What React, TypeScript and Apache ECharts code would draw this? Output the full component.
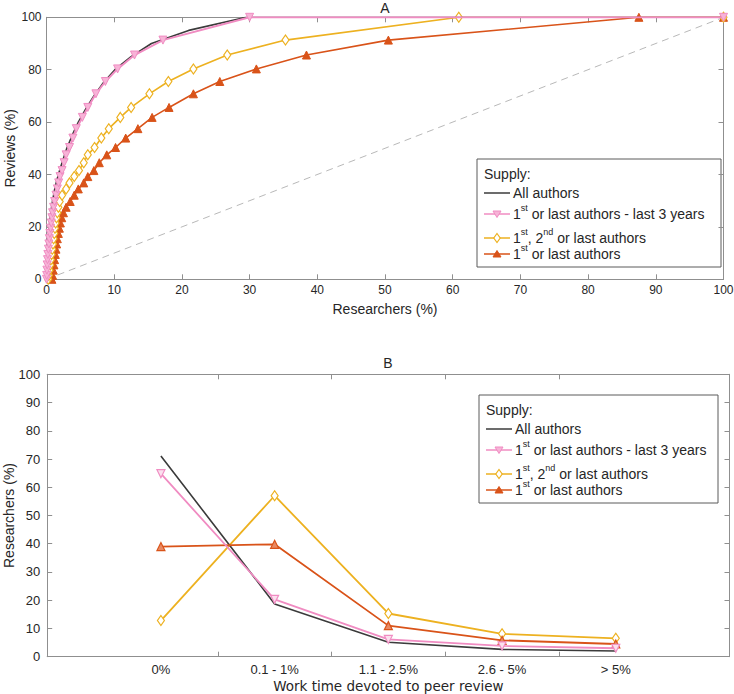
import React, { useEffect, useRef } from 'react';
import * as echarts from 'echarts';

// ---------- Panel A data (cumulative reviews vs researchers) ----------
const reviewLevels = [0, 1.5, 3.5, 5.5, 7.5, 9.5, 11.5, 13.5, 15.5, 17.5, 19.5, 21.5, 23.5, 25.4, 27.5, 29.7, 32.1, 34.5, 36.8, 39.2, 41.5, 44.5, 47.5, 50.3, 53.9, 57.5, 61.8, 65.6, 70.8, 75.5, 80.3, 85.6, 91.3, 100, 100];
const lastThreeYearsX = [0, 0.03, 0.06, 0.1, 0.15, 0.2, 0.28, 0.35, 0.42, 0.5, 0.6, 0.7, 0.8, 0.9, 1.05, 1.2, 1.4, 1.6, 1.8, 2.0, 2.3, 2.6, 2.9, 3.4, 3.9, 4.4, 5.3, 6.1, 7.3, 8.7, 10.5, 13.0, 17.2, 30.0, 100];
const firstSecondLastX = [0.25, 0.35, 0.45, 0.55, 0.65, 0.75, 0.85, 0.95, 1.05, 1.15, 1.25, 1.35, 1.48, 1.6, 1.75, 1.95, 2.3, 2.9, 3.4, 4.1, 4.8, 5.5, 6.1, 7.1, 8.1, 9.2, 10.9, 12.5, 15.2, 18.0, 21.7, 26.7, 35.3, 60.9, 100];
const firstLastX = [0.8, 0.9, 1.0, 1.1, 1.2, 1.3, 1.4, 1.5, 1.6, 1.75, 1.9, 2.05, 2.25, 2.5, 2.9, 3.5, 4.1, 4.7, 5.5, 6.1, 7.0, 7.8, 8.9, 10.2, 11.7, 13.5, 15.6, 18.1, 21.7, 25.6, 31.0, 38.4, 50.5, 87.5, 100];
const allAuthorsX = [0, 0.05, 0.12, 0.25, 0.4, 0.6, 0.9, 1.25, 1.75, 2.35, 3.0, 3.8, 4.7, 5.8, 7.0, 8.4, 10.1, 12.5, 15.5, 21.0, 29.5, 100];
const allAuthorsY = [0, 5, 10, 15, 20, 25, 30, 35, 40, 45, 50, 55, 60, 65, 70, 75, 80, 85, 90, 95, 100, 100];
const equalityLine = [0, 100];

// ---------- Panel B data ----------
const workTimeCategories = ['0%', '0.1 - 1%', '1.1 - 2.5%', '2.6 - 5%', '> 5%'];
const bAllAuthors = [71.1, 18.7, 5.1, 2.6, 2.0];
const bLastThreeYears = [64.8, 20.3, 6.1, 3.8, 3.0];
const bFirstSecondLast = [12.8, 57.0, 15.3, 8.1, 6.5];
const bFirstLast = [39.0, 39.8, 11.0, 5.8, 4.5];

const legendLabels = [
  'All authors',
  '1{sup|st} or last authors - last 3 years',
  '1{sup|st}, 2{sup|nd} or last authors',
  '1{sup|st} or last authors',
];

const FONT = '"Liberation Sans", Arial, Helvetica, sans-serif';
const C_ALL = '#3b3b3b';
const C_PINK = '#f08cc2';
const C_YEL = '#edb120';
const C_ORG = '#d95319';
const AXIS = '#8f8f8f';
const LABEL = '#262626';

const pairs = (xs: number[], ys: number[]) => xs.map((x, i) => [x, ys[i]]);

function legendGraphic(left: number, top: number, width: number) {
  const rowsY = [34, 55, 79, 95];
  const colors = [C_ALL, C_PINK, C_YEL, C_ORG];
  const children: any[] = [
    { type: 'rect', shape: { x: 0, y: 0, width, height: 108 }, style: { fill: '#fff', stroke: '#5a5a5a', lineWidth: 1 } },
    { type: 'text', x: 7, y: 15, style: { text: 'Supply:', fontSize: 14, fontFamily: FONT, fill: LABEL, verticalAlign: 'middle' } },
  ];
  legendLabels.forEach((label, i) => {
    const y = rowsY[i];
    const c = colors[i];
    children.push({ type: 'line', shape: { x1: 7, y1: y, x2: 33, y2: y }, style: { stroke: c, lineWidth: 1.5 } });
    const cx = 20;
    if (i === 1) {
      children.push({ type: 'polygon', shape: { points: [[cx - 4, y - 3], [cx + 4, y - 3], [cx, y + 3.5]] }, style: { fill: '#f7b3d7', stroke: C_PINK, lineWidth: 1 } });
    } else if (i === 2) {
      children.push({ type: 'polygon', shape: { points: [[cx, y - 4.5], [cx + 3.2, y], [cx, y + 4.5], [cx - 3.2, y]] }, style: { fill: '#fff', stroke: C_YEL, lineWidth: 1.2 } });
    } else if (i === 3) {
      children.push({ type: 'polygon', shape: { points: [[cx - 4, y + 3], [cx + 4, y + 3], [cx, y - 3.5]] }, style: { fill: C_ORG, stroke: C_ORG, lineWidth: 1 } });
    }
    children.push({
      type: 'text', x: 36, y,
      style: {
        text: label, fontSize: 14, fontFamily: FONT, fill: LABEL, verticalAlign: 'middle', lineHeight: 22,
        rich: { sup: { fontSize: 9, fontFamily: FONT, fill: LABEL, verticalAlign: 'top', lineHeight: 10 } },
      },
    });
  });
  return { type: 'group', x: left, y: top, z: 100, children };
}

function axisCommon() {
  return {
    nameMoveOverlap: false,
    axisLine: { show: true, onZero: false, lineStyle: { color: AXIS, width: 1 } },
    axisTick: { show: true, inside: true, length: 5, lineStyle: { color: AXIS, width: 1 } },
    splitLine: { show: false },
  };
}

export default function App() {
  const ref = useRef<HTMLDivElement>(null);
  useEffect(() => {
    if (!ref.current) return;
    const chart = echarts.init(ref.current, undefined, { renderer: 'svg' });
    const labelCustom = workTimeCategories.map((_, i) => i + 1);
    const tickCustom = workTimeCategories.slice(1).map((_, i) => i + 1.5);
    const nameStyle = { color: LABEL, fontSize: 14, fontFamily: FONT };
    const option: any = {
      animation: false,
      backgroundColor: '#fff',
      grid: [
        { left: 46.5, top: 17.3, width: 677, height: 262, outerBoundsMode: 'none', containLabel: false },
        { left: 47.2, top: 374.3, width: 682.3, height: 282.4, outerBoundsMode: 'none', containLabel: false },
      ],
      xAxis: [
        {
          gridIndex: 0, type: 'value', min: 0, max: 100, interval: 10, position: 'bottom', ...axisCommon(),
          axisLabel: { color: LABEL, fontSize: 12, fontFamily: FONT, margin: 5 },
          name: 'Researchers (%)', nameLocation: 'middle', nameGap: 23, nameTextStyle: nameStyle,
        },
        {
          gridIndex: 0, type: 'value', min: 0, max: 100, interval: 10, position: 'top', ...axisCommon(),
          axisLabel: { show: false },
        },
        {
          gridIndex: 1, type: 'value', min: 0, max: 6, position: 'bottom', ...axisCommon(),
          axisTick: { show: true, inside: true, length: 5, customValues: tickCustom, lineStyle: { color: AXIS } },
          axisLabel: {
            color: LABEL, fontSize: 13, fontFamily: FONT, margin: 6, customValues: labelCustom,
            formatter: (v: number) => workTimeCategories[Math.round(v) - 1] ?? '',
          },
          name: 'Work time devoted to peer review', nameLocation: 'middle', nameGap: 22,
          nameTextStyle: { ...nameStyle, fontFamily: '"DejaVu Sans", ' + FONT, fontSize: 13.5 },
        },
        {
          gridIndex: 1, type: 'value', min: 0, max: 6, position: 'top', ...axisCommon(),
          axisTick: { show: true, inside: true, length: 5, customValues: tickCustom, lineStyle: { color: AXIS } },
          axisLabel: { show: false },
        },
      ],
      yAxis: [
        {
          gridIndex: 0, type: 'value', min: 0, max: 100, interval: 20, position: 'left', ...axisCommon(),
          axisLabel: { color: LABEL, fontSize: 12, fontFamily: FONT, margin: 5 },
          name: 'Reviews (%)', nameLocation: 'middle', nameGap: 30, nameTextStyle: nameStyle,
        },
        {
          gridIndex: 0, type: 'value', min: 0, max: 100, interval: 20, position: 'right', ...axisCommon(),
          axisLabel: { show: false },
        },
        {
          gridIndex: 1, type: 'value', min: 0, max: 100, interval: 10, position: 'left', ...axisCommon(),
          axisLabel: { color: LABEL, fontSize: 13, fontFamily: FONT, margin: 7 },
          name: 'Researchers (%)', nameLocation: 'middle', nameGap: 31, nameTextStyle: nameStyle,
        },
        {
          gridIndex: 1, type: 'value', min: 0, max: 100, interval: 10, position: 'right', ...axisCommon(),
          axisLabel: { show: false },
        },
      ],
      series: [
        {
          type: 'line', xAxisIndex: 0, yAxisIndex: 0, data: pairs(equalityLine, equalityLine), symbol: 'none',
          lineStyle: { color: '#a6a6a6', width: 0.8, type: [7, 5] }, z: 1, silent: true,
        },
        {
          type: 'line', name: 'All authors', xAxisIndex: 0, yAxisIndex: 0, data: pairs(allAuthorsX, allAuthorsY),
          symbol: 'none', lineStyle: { color: C_ALL, width: 1.6 }, z: 3,
        },
        {
          type: 'line', name: '1st or last authors', xAxisIndex: 0, yAxisIndex: 0, data: pairs(firstLastX, reviewLevels),
          symbol: 'triangle', symbolSize: 8, showAllSymbol: true,
          itemStyle: { color: C_ORG, borderColor: C_ORG, borderWidth: 1 }, lineStyle: { color: C_ORG, width: 1.6 }, z: 2,
        },
        {
          type: 'line', name: '1st, 2nd or last authors', xAxisIndex: 0, yAxisIndex: 0, data: pairs(firstSecondLastX, reviewLevels),
          symbol: 'diamond', symbolSize: [7, 10], showAllSymbol: true,
          itemStyle: { color: '#fff', borderColor: C_YEL, borderWidth: 1.2 }, lineStyle: { color: C_YEL, width: 1.6 }, z: 2,
        },
        {
          type: 'line', name: '1st or last authors - last 3 years', xAxisIndex: 0, yAxisIndex: 0, data: pairs(lastThreeYearsX, reviewLevels),
          symbol: 'triangle', symbolRotate: 180, symbolSize: 8, showAllSymbol: true,
          itemStyle: { color: '#f7b3d7', borderColor: C_PINK, borderWidth: 1 }, lineStyle: { color: C_PINK, width: 2 }, z: 4,
        },
        // Panel B
        {
          type: 'line', name: 'All authors', xAxisIndex: 2, yAxisIndex: 2, data: bAllAuthors.map((v, i) => [i + 1, v]),
          symbol: 'none', lineStyle: { color: C_ALL, width: 1.6 }, z: 3,
        },
        {
          type: 'line', name: '1st or last authors - last 3 years', xAxisIndex: 2, yAxisIndex: 2, data: bLastThreeYears.map((v, i) => [i + 1, v]),
          symbol: 'triangle', symbolRotate: 180, symbolSize: 8,
          itemStyle: { color: '#fbe0ee', borderColor: C_PINK, borderWidth: 1.2 }, lineStyle: { color: C_PINK, width: 1.8 }, z: 4,
        },
        {
          type: 'line', name: '1st, 2nd or last authors', xAxisIndex: 2, yAxisIndex: 2, data: bFirstSecondLast.map((v, i) => [i + 1, v]),
          symbol: 'diamond', symbolSize: [7, 10],
          itemStyle: { color: '#fff', borderColor: C_YEL, borderWidth: 1.2 }, lineStyle: { color: C_YEL, width: 1.8 }, z: 2,
        },
        {
          type: 'line', name: '1st or last authors', xAxisIndex: 2, yAxisIndex: 2, data: bFirstLast.map((v, i) => [i + 1, v]),
          symbol: 'triangle', symbolSize: 8,
          itemStyle: { color: '#e98a63', borderColor: C_ORG, borderWidth: 1.2 }, lineStyle: { color: C_ORG, width: 1.8 }, z: 3,
        },
      ],
      graphic: [
        { type: 'text', x: 385, y: 8, style: { text: 'A', fontSize: 14, fontFamily: FONT, fill: LABEL, align: 'center', verticalAlign: 'middle' } },
        { type: 'text', x: 388, y: 363, style: { text: 'B', fontSize: 14, fontFamily: FONT, fill: LABEL, align: 'center', verticalAlign: 'middle' } },
        legendGraphic(477, 159, 244),
        legendGraphic(479, 395, 239),
      ],
    };
    chart.setOption(option);
    return () => chart.dispose();
  }, []);
  return <div ref={ref} style={{ position: 'absolute', left: 0, top: 0, width: 734, height: 694, background: '#fff' }} />;
}
